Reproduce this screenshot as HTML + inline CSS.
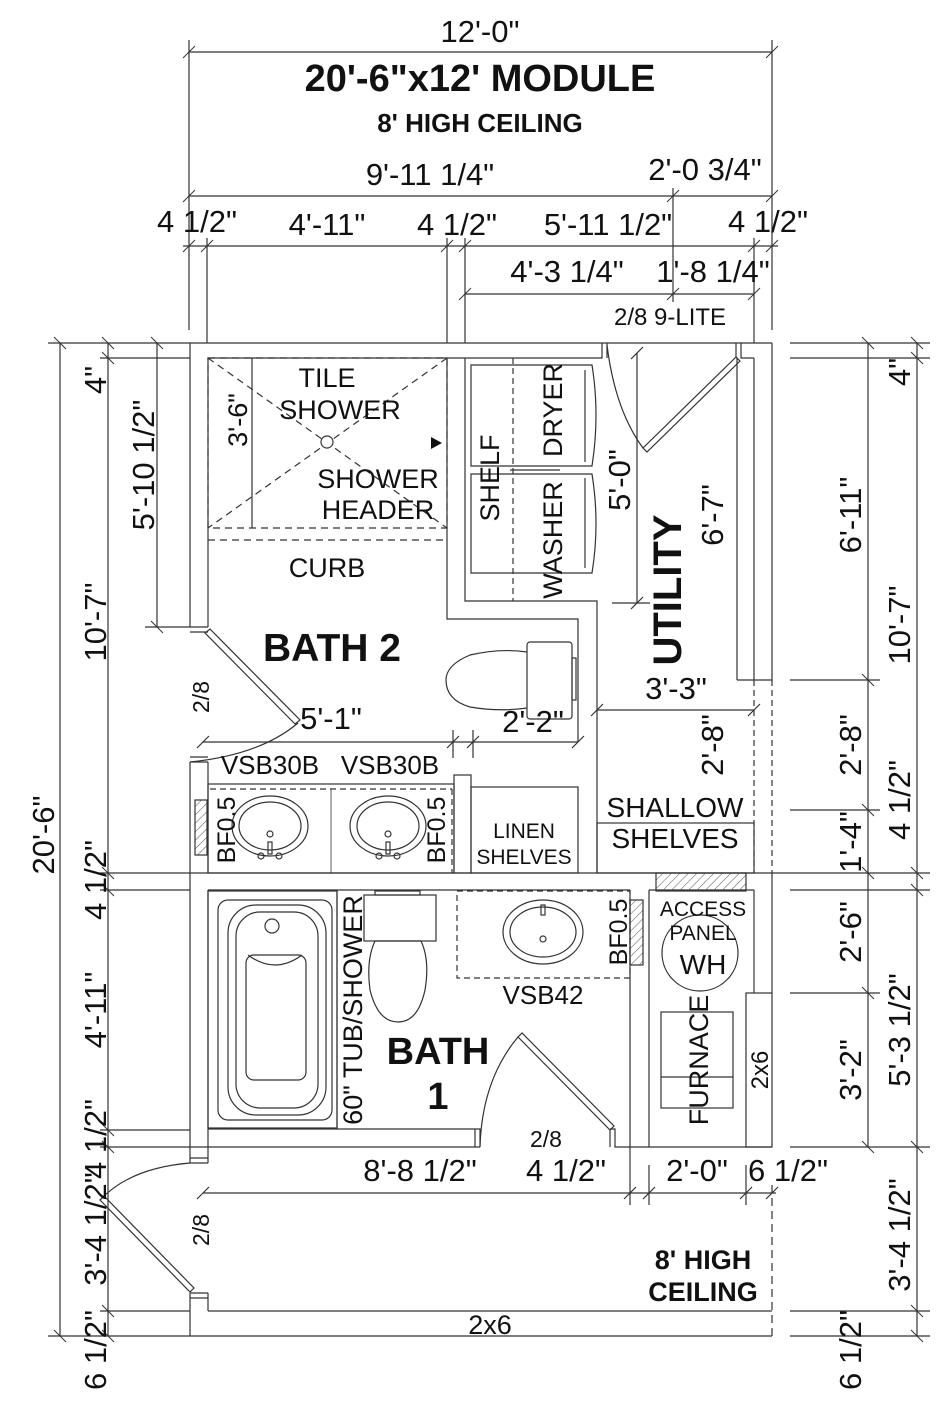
<!DOCTYPE html>
<html><head><meta charset="utf-8"><style>
html,body{margin:0;padding:0;background:#fff}
svg{display:block}
text{font-family:"Liberation Sans",Arial,sans-serif;fill:#111}
.d{font-size:31px}
.b{font-weight:bold}
</style></head><body>
<svg width="948" height="1414" viewBox="0 0 948 1414" xmlns="http://www.w3.org/2000/svg">
<defs><pattern id="h" width="6" height="6" patternUnits="userSpaceOnUse" patternTransform="rotate(45)"><line x1="0" y1="0" x2="0" y2="6" stroke="#555" stroke-width="1"/></pattern></defs>
<g stroke="#333" stroke-width="1.2" fill="none">
<line x1="189" y1="52" x2="772" y2="52"/>
<line x1="189" y1="196" x2="772" y2="196"/>
<line x1="183" y1="246" x2="778" y2="246"/>
<line x1="465" y1="294" x2="754" y2="294"/>
<line x1="189" y1="40" x2="189" y2="330"/>
<line x1="772" y1="40" x2="772" y2="330"/>
<line x1="207" y1="238" x2="207" y2="343"/>
<line x1="447" y1="238" x2="447" y2="343"/>
<line x1="465" y1="238" x2="465" y2="343"/>
<line x1="754" y1="238" x2="754" y2="343"/>
<line x1="673" y1="188" x2="673" y2="302"/>
<g stroke-width="1">
<line x1="183" y1="58" x2="195" y2="46"/><line x1="766" y1="58" x2="778" y2="46"/>
<line x1="183" y1="202" x2="195" y2="190"/><line x1="667" y1="202" x2="679" y2="190"/><line x1="766" y1="202" x2="778" y2="190"/>
<line x1="183" y1="252" x2="195" y2="240"/><line x1="201" y1="252" x2="213" y2="240"/><line x1="441" y1="252" x2="453" y2="240"/><line x1="459" y1="252" x2="471" y2="240"/><line x1="748" y1="252" x2="760" y2="240"/><line x1="766" y1="252" x2="778" y2="240"/>
<line x1="459" y1="300" x2="471" y2="288"/><line x1="667" y1="300" x2="679" y2="288"/><line x1="748" y1="300" x2="760" y2="288"/>
</g>
<line x1="60" y1="343" x2="60" y2="1336"/>
<line x1="108" y1="343" x2="108" y2="1336"/>
<line x1="157" y1="343" x2="157" y2="627"/>
<line x1="48" y1="343" x2="190" y2="343"/>
<line x1="100" y1="358" x2="190" y2="358"/>
<line x1="100" y1="873" x2="190" y2="873"/>
<line x1="100" y1="890" x2="190" y2="890"/>
<line x1="100" y1="1130" x2="190" y2="1130"/>
<line x1="100" y1="1147" x2="190" y2="1147"/>
<line x1="100" y1="1311" x2="190" y2="1311"/>
<line x1="48" y1="1336" x2="190" y2="1336"/>
<line x1="145" y1="627" x2="190" y2="627"/>
<g stroke-width="1">
<line x1="54" y1="337" x2="66" y2="349"/><line x1="54" y1="1330" x2="66" y2="1342"/>
<line x1="102" y1="337" x2="114" y2="349"/><line x1="102" y1="352" x2="114" y2="364"/><line x1="102" y1="867" x2="114" y2="879"/><line x1="102" y1="884" x2="114" y2="896"/><line x1="102" y1="1124" x2="114" y2="1136"/><line x1="102" y1="1141" x2="114" y2="1153"/><line x1="102" y1="1305" x2="114" y2="1317"/><line x1="102" y1="1330" x2="114" y2="1342"/>
<line x1="151" y1="337" x2="163" y2="349"/><line x1="151" y1="621" x2="163" y2="633"/>
</g>
<line x1="868" y1="343" x2="868" y2="1147"/>
<line x1="917" y1="343" x2="917" y2="1336"/>
<line x1="790" y1="343" x2="930" y2="343"/>
<line x1="790" y1="358" x2="930" y2="358"/>
<line x1="790" y1="680" x2="880" y2="680"/>
<line x1="790" y1="810" x2="880" y2="810"/>
<line x1="770" y1="873" x2="930" y2="873"/>
<line x1="790" y1="890" x2="930" y2="890"/>
<line x1="790" y1="993" x2="880" y2="993"/>
<line x1="790" y1="1147" x2="930" y2="1147"/>
<line x1="790" y1="1311" x2="930" y2="1311"/>
<line x1="790" y1="1336" x2="930" y2="1336"/>
<g stroke-width="1">
<line x1="862" y1="337" x2="874" y2="349"/><line x1="862" y1="674" x2="874" y2="686"/><line x1="862" y1="804" x2="874" y2="816"/><line x1="862" y1="867" x2="874" y2="879"/><line x1="862" y1="987" x2="874" y2="999"/><line x1="862" y1="1141" x2="874" y2="1153"/>
<line x1="911" y1="337" x2="923" y2="349"/><line x1="911" y1="352" x2="923" y2="364"/><line x1="911" y1="867" x2="923" y2="879"/><line x1="911" y1="884" x2="923" y2="896"/><line x1="911" y1="1141" x2="923" y2="1153"/><line x1="911" y1="1305" x2="923" y2="1317"/><line x1="911" y1="1330" x2="923" y2="1342"/>
</g>
<line x1="190" y1="343" x2="772" y2="343"/>
<path d="M208 358 H602 V343 M607 343 V358 M736 358 V343 M741 343 V358 H754"/>
<line x1="190" y1="343" x2="190" y2="627"/><line x1="208" y1="358" x2="208" y2="627"/>
<path d="M190 627 H208 M190 632 H208"/>
<line x1="190" y1="762" x2="190" y2="1163"/><line x1="208" y1="762" x2="208" y2="873"/><line x1="208" y1="890" x2="208" y2="1163"/>
<path d="M190 762 H208 M190 757 H208"/>
<path d="M190 1163 H208 M190 1158 H208 M190 1293 H208 M190 1298 H208"/>
<line x1="190" y1="1293" x2="190" y2="1336"/><line x1="208" y1="1293" x2="208" y2="1311"/>
<line x1="190" y1="1336" x2="772" y2="1336"/>
<line x1="208" y1="1311" x2="772" y2="1311"/>
<line x1="772" y1="343" x2="772" y2="680"/>
<line x1="754" y1="358" x2="754" y2="680"/>
<line x1="737" y1="358" x2="737" y2="680"/>
<path d="M737 680 H772"/>
<line x1="754" y1="680" x2="754" y2="873" stroke-dasharray="6,4"/>
<line x1="772" y1="680" x2="772" y2="873" stroke-dasharray="6,4"/>
<line x1="772" y1="873" x2="772" y2="993"/>
<line x1="754" y1="890" x2="754" y2="993"/>
<rect x="746" y="993" width="26" height="154"/>
<line x1="772" y1="1185" x2="772" y2="1336" stroke-dasharray="8,5"/>
<line x1="190" y1="873" x2="770" y2="873"/>
<line x1="208" y1="890" x2="630" y2="890"/>
<line x1="649" y1="890" x2="754" y2="890"/>
<path d="M447 358 V619 H578 V742"/>
<path d="M465 358 V601 H597 V873"/>
<rect x="208" y="358" width="239" height="170" stroke-dasharray="7,5"/>
<line x1="208" y1="540" x2="447" y2="540" stroke-dasharray="7,5"/>
<line x1="208" y1="358" x2="447" y2="528" stroke-dasharray="7,5"/>
<line x1="447" y1="358" x2="208" y2="528" stroke-dasharray="7,5"/>
<line x1="252" y1="358" x2="252" y2="528"/>
<circle cx="327" cy="442" r="6" fill="#fff"/>
<path d="M471 365 H592 Q600 415 592 466 H471 Z"/>
<path d="M471 474 H592 Q600 524 592 573 H471 Z"/>
<line x1="513" y1="358" x2="513" y2="601" stroke-dasharray="6,4"/>
<line x1="510" y1="470" x2="560" y2="470"/>
<line x1="585" y1="370" x2="585" y2="462"/><line x1="585" y1="478" x2="585" y2="568"/>
<path d="M736 357 L643 448 L647 452 L740 361 Z"/>
<path d="M607 345 Q615 410 643 448"/>
<line x1="637" y1="353" x2="637" y2="603"/>
<line x1="631" y1="359" x2="643" y2="347"/><line x1="631" y1="609" x2="643" y2="597"/>
<line x1="612" y1="603" x2="650" y2="603"/>
<line x1="597" y1="710" x2="754" y2="710"/>
<line x1="591" y1="716" x2="603" y2="704"/><line x1="748" y1="716" x2="760" y2="704"/>
<path d="M205 633 L295 724 L300 720 L210 629 Z"/>
<path d="M298 723 Q260 755 190 762"/>
<line x1="203" y1="742" x2="578" y2="742"/>
<line x1="453" y1="730" x2="453" y2="758"/><line x1="473" y1="730" x2="473" y2="758"/>
<line x1="197" y1="748" x2="209" y2="736"/><line x1="447" y1="748" x2="459" y2="736"/><line x1="467" y1="748" x2="479" y2="736"/><line x1="572" y1="748" x2="584" y2="736"/>
<rect x="527" y="642" width="45" height="77" rx="3"/>
<rect x="572" y="658" width="4" height="42"/>
<path d="M527 652 Q500 648 470 655 Q446 665 446 680 Q446 700 470 707 Q500 712 527 708"/>
<rect x="208" y="784" width="246" height="89"/>
<line x1="210" y1="789" x2="452" y2="789" stroke-dasharray="6,4"/>
<line x1="452" y1="789" x2="452" y2="873" stroke-dasharray="6,4"/>
<line x1="331" y1="789" x2="331" y2="873" stroke-width="0.8"/>
<rect x="195" y="800" width="12" height="55" fill="url(#h)"/>
<ellipse cx="270" cy="826" rx="38" ry="30"/><ellipse cx="270" cy="826" rx="31" ry="24"/>
<ellipse cx="388" cy="826" rx="38" ry="30"/><ellipse cx="388" cy="826" rx="31" ry="24"/>
<circle cx="270" cy="834" r="3"/><circle cx="388" cy="834" r="3"/>
<rect x="268" y="842" width="4" height="12"/><rect x="386" y="842" width="4" height="12"/>
<circle cx="261" cy="856" r="3"/><circle cx="279" cy="856" r="3"/><circle cx="379" cy="856" r="3"/><circle cx="397" cy="856" r="3"/>
<rect x="454" y="775" width="17" height="98"/>
<rect x="471" y="787" width="107" height="86"/>
<rect x="597" y="823" width="157" height="50"/>
<rect x="208" y="891" width="129" height="237"/>
<rect x="218" y="900" width="114" height="220" rx="10"/>
<rect x="228" y="905" width="98" height="210" rx="28"/>
<rect x="236" y="912" width="82" height="196" rx="24"/>
<rect x="246" y="955" width="60" height="125" rx="8"/>
<circle cx="272" cy="926" r="7"/>
<path d="M248 955 Q275 975 302 955"/>
<line x1="337" y1="891" x2="337" y2="1128"/>
<rect x="364" y="895" width="72" height="46"/>
<rect x="375" y="891" width="45" height="4"/>
<path d="M375 941 Q366 960 370 990 Q378 1022 398 1022 Q418 1022 425 990 Q430 960 421 941 Z"/>
<rect x="457" y="891" width="173" height="87" stroke-dasharray="6,4"/>
<ellipse cx="543" cy="932" rx="40" ry="32"/><ellipse cx="543" cy="932" rx="33" ry="25"/>
<circle cx="543" cy="939" r="3"/><rect x="541" y="905" width="4" height="10"/>
<rect x="630" y="900" width="13" height="65" fill="url(#h)"/>
<path d="M208 1129 H475 V1147 M480 1147 V1129 H475"/>
<line x1="208" y1="1147" x2="480" y2="1147"/>
<path d="M610 1129 V1147 M615 1147 V1129 H610 M615 1129 V1147 H649"/>
<line x1="190" y1="1147" x2="208" y2="1147"/>
<line x1="630" y1="890" x2="630" y2="1147"/>
<line x1="649" y1="890" x2="649" y2="1147"/>
<line x1="649" y1="1147" x2="772" y2="1147"/>
<path d="M518 1037 L610 1130 L614 1126 L522 1033 Z"/>
<path d="M480 1147 Q482 1080 518 1037"/>
<rect x="656" y="873" width="90" height="18" fill="url(#h)"/>
<circle cx="700" cy="953" r="38"/>
<rect x="661" y="1012" width="72" height="96"/>
<line x1="661" y1="1077" x2="733" y2="1077"/>
<line x1="203" y1="1193" x2="776" y2="1193"/>
<line x1="630" y1="1147" x2="630" y2="1205"/><line x1="649" y1="1165" x2="649" y2="1205"/><line x1="746" y1="1165" x2="746" y2="1205"/>
<line x1="197" y1="1199" x2="209" y2="1187"/><line x1="624" y1="1199" x2="636" y2="1187"/><line x1="643" y1="1199" x2="655" y2="1187"/><line x1="740" y1="1199" x2="752" y2="1187"/><line x1="766" y1="1199" x2="778" y2="1187"/>
<path d="M100 1200 L190 1292 L194 1288 L104 1196 Z"/>
<path d="M100 1200 Q130 1168 190 1163"/>
</g>
<polygon points="431,437 442,443 431,449" fill="#111"/>
<g text-anchor="middle">
<text x="480" y="42" class="d">12'-0"</text>
<text x="480" y="91" class="b" font-size="38">20'-6"x12' MODULE</text>
<text x="480" y="132" class="b" font-size="26">8' HIGH CEILING</text>
<text x="430" y="185" class="d">9'-11 1/4"</text>
<text x="705" y="180" class="d">2'-0 3/4"</text>
<text x="197" y="232" class="d">4 1/2"</text>
<text x="327" y="235" class="d">4'-11"</text>
<text x="457" y="235" class="d">4 1/2"</text>
<text x="608" y="235" class="d">5'-11 1/2"</text>
<text x="768" y="232" class="d">4 1/2"</text>
<text x="567" y="282" class="d">4'-3 1/4"</text>
<text x="713" y="282" class="d">1'-8 1/4"</text>
<text x="670" y="325" font-size="24">2/8 9-LITE</text>
<text x="327" y="387" font-size="27">TILE</text>
<text x="340" y="419" font-size="27">SHOWER</text>
<text x="378" y="488" font-size="27">SHOWER</text>
<text x="378" y="519" font-size="27">HEADER</text>
<text x="327" y="577" font-size="27">CURB</text>
<text x="332" y="661" class="b" font-size="39">BATH 2</text>
<text x="331" y="729" class="d">5'-1"</text>
<text x="533" y="732" class="d">2'-2"</text>
<text x="676" y="699" class="d">3'-3"</text>
<text x="270" y="774" font-size="26">VSB30B</text>
<text x="390" y="774" font-size="26">VSB30B</text>
<text x="524" y="838" font-size="21">LINEN</text>
<text x="524" y="864" font-size="21">SHELVES</text>
<text x="675" y="817" font-size="28">SHALLOW</text>
<text x="675" y="848" font-size="28">SHELVES</text>
<text x="543" y="1004" font-size="26">VSB42</text>
<text x="703" y="916" font-size="21">ACCESS</text>
<text x="703" y="940" font-size="21">PANEL</text>
<text x="703" y="974" font-size="28">WH</text>
<text x="438" y="1064" class="b" font-size="38">BATH</text>
<text x="438" y="1109" class="b" font-size="38">1</text>
<text x="546" y="1147" font-size="23">2/8</text>
<text x="420" y="1181" class="d">8'-8 1/2"</text>
<text x="566" y="1181" class="d">4 1/2"</text>
<text x="697" y="1181" class="d">2'-0"</text>
<text x="788" y="1181" class="d">6 1/2"</text>
<text x="703" y="1269" class="b" font-size="27">8' HIGH</text>
<text x="703" y="1301" class="b" font-size="27">CEILING</text>
<text x="490" y="1334" font-size="27">2x6</text>
</g>
<g text-anchor="middle">
<text transform="translate(247,420) rotate(-90)" font-size="27">3'-6"</text>
<text transform="translate(499,478) rotate(-90)" font-size="27">SHELF</text>
<text transform="translate(562,540) rotate(-90)" font-size="27">WASHER</text>
<text transform="translate(562,410) rotate(-90)" font-size="27">DRYER</text>
<text transform="translate(630,480) rotate(-90)" class="d">5'-0"</text>
<text transform="translate(681,590) rotate(-90)" class="b" font-size="40">UTILITY</text>
<text transform="translate(723,515) rotate(-90)" class="d">6'-7"</text>
<text transform="translate(723,745) rotate(-90)" class="d">2'-8"</text>
<text transform="translate(209,697) rotate(-90)" font-size="23">2/8</text>
<text transform="translate(235,830) rotate(-90)" font-size="25">BF0.5</text>
<text transform="translate(445,830) rotate(-90)" font-size="25">BF0.5</text>
<text transform="translate(362,1010) rotate(-90)" font-size="27">60" TUB/SHOWER</text>
<text transform="translate(627,932) rotate(-90)" font-size="25">BF0.5</text>
<text transform="translate(708,1060) rotate(-90)" font-size="27">FURNACE</text>
<text transform="translate(768,1070) rotate(-90)" font-size="24">2x6</text>
<text transform="translate(209,1230) rotate(-90)" font-size="23">2/8</text>
<text transform="translate(106,380) rotate(-90)" class="d">4"</text>
<text transform="translate(106,622) rotate(-90)" class="d">10'-7"</text>
<text transform="translate(54,835) rotate(-90)" class="d">20'-6"</text>
<text transform="translate(154,465) rotate(-90)" class="d">5'-10 1/2"</text>
<text transform="translate(106,880) rotate(-90)" class="d">4 1/2"</text>
<text transform="translate(106,1010) rotate(-90)" class="d">4'-11"</text>
<text transform="translate(106,1139) rotate(-90)" class="d">4 1/2"</text>
<text transform="translate(106,1229) rotate(-90)" class="d">3'-4 1/2"</text>
<text transform="translate(106,1350) rotate(-90)" class="d">6 1/2"</text>
<text transform="translate(861,515) rotate(-90)" class="d">6'-11"</text>
<text transform="translate(861,745) rotate(-90)" class="d">2'-8"</text>
<text transform="translate(861,842) rotate(-90)" class="d">1'-4"</text>
<text transform="translate(861,932) rotate(-90)" class="d">2'-6"</text>
<text transform="translate(861,1070) rotate(-90)" class="d">3'-2"</text>
<text transform="translate(861,1350) rotate(-90)" class="d">6 1/2"</text>
<text transform="translate(910,372) rotate(-90)" class="d">4"</text>
<text transform="translate(910,625) rotate(-90)" class="d">10'-7"</text>
<text transform="translate(910,800) rotate(-90)" class="d">4 1/2"</text>
<text transform="translate(910,1030) rotate(-90)" class="d">5'-3 1/2"</text>
<text transform="translate(910,1235) rotate(-90)" class="d">3'-4 1/2"</text>
</g>
</svg>
</body></html>
